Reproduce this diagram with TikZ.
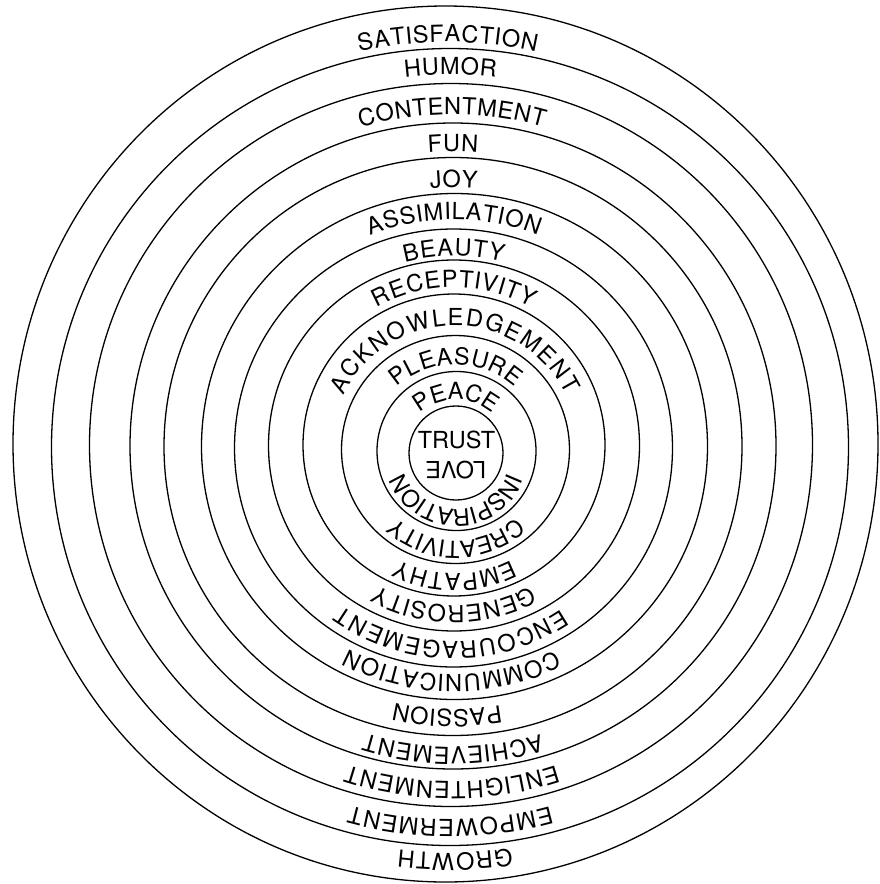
\documentclass[tikz,border=0pt]{standalone}
\usepackage{fontspec}
\setmainfont{TeX Gyre Heros}
\usetikzlibrary{decorations.text}
\newcommand\labfont{\fontsize{23.5}{28}\selectfont}
% top label: cx, cy (image y), radius of letter mid-height, spread factor, text
\newcommand\TopLab[5]{%
  \pgfmathsetmacro\labR{#3/#4}%
  \pgfmathsetmacro\labRaise{#3-\labR-8.45}%
  \path[decorate,decoration={text along path,text={|\labfont|#5},text align=center,raise=\labRaise pt}]
    (#1pt,-#2pt) ++(180:\labR pt) arc[start angle=180,end angle=0,radius=\labR pt];}
% bottom label: cx, cy, radius, spread factor, shift angle, text
\newcommand\BotLab[6]{%
  \pgfmathsetmacro\labR{#3/#4}%
  \pgfmathsetmacro\labRaise{#3-\labR-8.45}%
  \pgfmathsetmacro\labS{#5}%
  \pgfmathsetmacro\labE{#5-180}%
  \path[decorate,decoration={text along path,text={|\labfont|#6},text align=center,raise=\labRaise pt}]
    (#1pt,-#2pt) ++(\labS:\labR pt) arc[start angle=\labS,end angle=\labE,radius=\labR pt];}
\begin{document}
\begin{tikzpicture}[x=1pt,y=1pt,
  ring/.style={draw=black,line width=1.3pt},
  lab/.style={font=\labfont,inner sep=0pt}]
\fill[white] (0,0) rectangle (879,-884);
\useasboundingbox (0,0) rectangle (879,-884);
% rings
\draw[ring] (445.5,-444) ellipse [x radius=432.5pt,y radius=438pt];
\draw[ring] (450,-447) circle [radius=398.5pt];
\draw[ring] (451,-445) circle [radius=361.5pt];
\draw[ring] (453,-446) circle [radius=323pt];
\draw[ring] (453,-446.5) circle [radius=289pt];
\draw[ring] (454.5,-446.5) circle [radius=253pt];
\draw[ring] (453.5,-448) circle [radius=219pt];
\draw[ring] (454,-445.5) circle [radius=185.5pt];
\draw[ring] (454,-445) circle [radius=151pt];
\draw[ring] (455.5,-449.5) circle [radius=114pt];
\draw[ring] (456.5,-451) circle [radius=79.5pt];
\draw[ring] (456,-453) circle [radius=47pt];
% upper labels
\TopLab{447.75}{447.5}{414}{1.07}{SATISFACTION}
\TopLab{450.5}{447}{381}{1.06}{HUMOR}
\TopLab{452}{448}{342}{1.06}{CONTENTMENT}
\TopLab{453}{449.5}{306}{1.07}{FUN}
\TopLab{453.75}{448.5}{269.5}{1.07}{JOY}
\TopLab{454}{447}{236}{1.09}{ASSIMILATION}
\TopLab{453.75}{448.75}{201.25}{1.11}{BEAUTY}
\TopLab{454}{446.5}{167.5}{1.11}{RECEPTIVITY}
\TopLab{454.75}{449.75}{132.5}{1.18}{ACKNOWLEDGEMENT}
\TopLab{456}{452.75}{96.75}{1.13}{PLEASURE}
\TopLab{456.25}{454.5}{63.25}{1.14}{PEACE}
% lower labels
\BotLab{447.75}{447.5}{414}{1.09}{1.05}{GROWTH}
\BotLab{450.5}{447}{381}{1.09}{0}{EMPOWERMENT}
\BotLab{452}{448}{342}{1.085}{0}{ENLIGHTENMENT}
\BotLab{453}{449.5}{306}{1.08}{0}{ACHIEVEMENT}
\BotLab{453.75}{448.5}{269.5}{1.06}{-1.4}{PASSION}
\BotLab{454}{447}{236}{1.10}{-0.6}{COMMUNICATION}
\BotLab{453.75}{448.75}{201.25}{1.12}{-0.8}{ENCOURAGEMENT}
\BotLab{454}{446.5}{167.5}{1.10}{0}{GENEROSITY}
\BotLab{454.75}{449.75}{132.5}{1.12}{0}{EMPATHY}
\BotLab{456}{452.75}{96.75}{1.04}{0}{CREATIVITY}
\BotLab{456.25}{454.5}{63.25}{1.03}{0}{INSPIRATION}
% centre
\node[lab,anchor=base] (trust) at (456.5,-448) {TRUST};
\node[lab,anchor=base,rotate=180] (love) at (455.8,-461.7) {LOVE};
\end{tikzpicture}
\end{document}
